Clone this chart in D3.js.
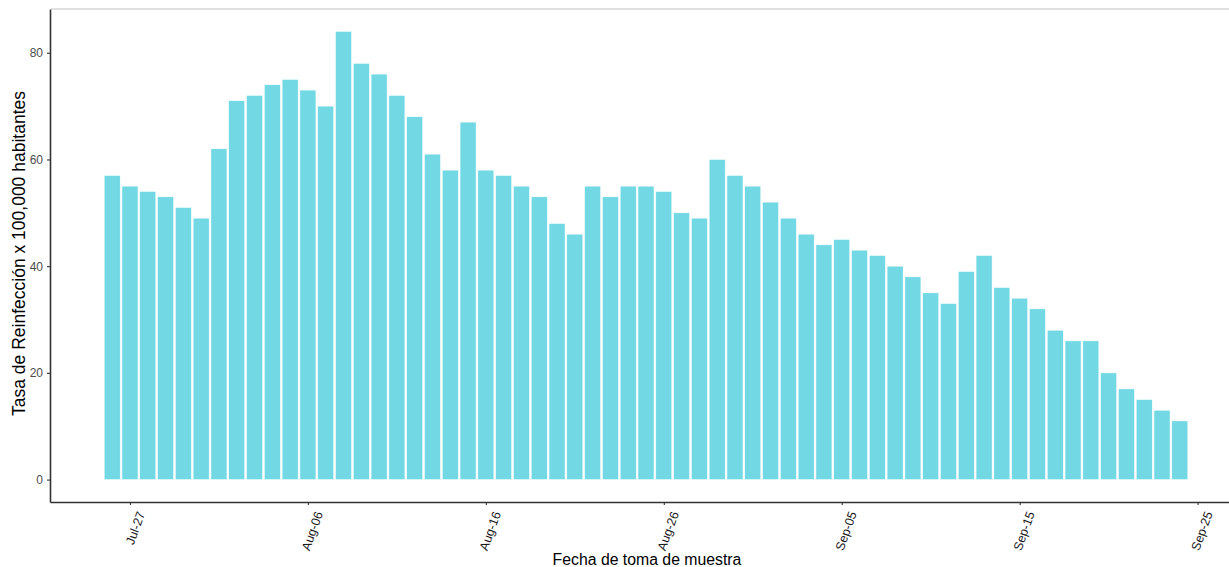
<!DOCTYPE html>
<html>
<head>
<meta charset="utf-8">
<script src="https://cdn.jsdelivr.net/npm/d3@7"></script>
<style>
  body { margin: 0; background: #fff; }
  svg { display: block; font-family: "Liberation Sans", Arial, sans-serif; }
</style>
</head>
<body>
<div id="chart"></div>
<script>
// Dates of sample collection (month-day, 2021)
const fechas = [
  "07-26","07-27","07-28","07-29","07-30","07-31",
  "08-01","08-02","08-03","08-04","08-05","08-06","08-07","08-08","08-09","08-10",
  "08-11","08-12","08-13","08-14","08-15","08-16","08-17","08-18","08-19","08-20",
  "08-21","08-22","08-23","08-24","08-25","08-26","08-27","08-28","08-29","08-30","08-31",
  "09-01","09-02","09-03","09-04","09-05","09-06","09-07","09-08","09-09","09-10",
  "09-11","09-12","09-13","09-14","09-15","09-16","09-17","09-18","09-19","09-20",
  "09-21","09-22","09-23","09-24"
];

// Reinfection rate x 100,000
const tasa = [
  57, 55, 54, 53, 51, 49,
  62, 71, 72, 74, 75, 73, 70, 84, 78, 76,
  72, 68, 61, 58, 67, 58, 57, 55, 53, 48,
  46, 55, 53, 55, 55, 54, 50, 49, 60, 57, 55,
  52, 49, 46, 44, 45, 43, 42, 40, 38, 35,
  33, 39, 42, 36, 34, 32, 28, 26, 26, 20,
  17, 15, 13, 11
];

const yTicks = [0, 20, 40, 60, 80];
const xTicks = ["07-27", "08-06", "08-16", "08-26", "09-05", "09-15", "09-25"];

const parse = d3.timeParse("%Y-%m-%d");
const toDate = (md) => parse("2021-" + md);

const data = fechas.map((f, i) => ({ date: toDate(f), value: tasa[i] }));

const width = 1229, height = 567;
const panel = { left: 50, right: 1242, top: 9, bottom: 502 };

const svg = d3.select("#chart")
  .append("svg")
  .attr("width", width)
  .attr("height", height);

// x scale: time, padded like ggplot (5% of the bar extent)
const half = 0.45 * 864e5;
const first = d3.min(data, d => d.date).getTime() - half;
const last = d3.max(data, d => d.date).getTime() + half;
const pad = (last - first) * 0.05;
const x = d3.scaleTime()
  .domain([new Date(first - pad), new Date(last + pad)])
  .range([panel.left, panel.right]);

const yMax = d3.max(tasa);
const y = d3.scaleLinear()
  .domain([-yMax * 0.05, yMax * 1.05])
  .range([panel.bottom, panel.top]);

// thin gray strip line at the top
svg.append("line")
  .attr("x1", panel.left + 1)
  .attr("x2", width)
  .attr("y1", panel.top)
  .attr("y2", panel.top)
  .attr("stroke", "#d6d6d6")
  .attr("stroke-width", 1.5);

// bars
svg.append("g")
  .selectAll("rect")
  .data(data)
  .enter()
  .append("rect")
  .attr("x", d => x(new Date(d.date.getTime() - half)))
  .attr("width", d => x(new Date(d.date.getTime() + half)) - x(new Date(d.date.getTime() - half)))
  .attr("y", d => y(d.value))
  .attr("height", d => y(0) - y(d.value))
  .attr("fill", "#72d9e4")
  .attr("stroke", "#ffffff")
  .attr("stroke-width", 0.5);

// y axis
const yAxis = d3.axisLeft(y)
  .tickValues(yTicks)
  .tickSize(3)
  .tickSizeOuter(0)
  .tickPadding(4);

const gy = svg.append("g")
  .attr("transform", `translate(${panel.left}, 0)`)
  .call(yAxis);
gy.select(".domain").attr("stroke", "#333").attr("stroke-width", 1.6);
gy.selectAll(".tick line").attr("stroke", "#333").attr("stroke-width", 1.1);
gy.selectAll(".tick text")
  .attr("fill", "#4d4d4d")
  .attr("font-size", 12)
  .attr("font-family", "Liberation Sans, Arial, sans-serif");

// x axis
const xAxis = d3.axisBottom(x)
  .tickValues(xTicks.map(toDate))
  .tickFormat(d3.timeFormat("%b-%d"))
  .tickSize(3)
  .tickSizeOuter(0);

const gx = svg.append("g")
  .attr("transform", `translate(0, ${panel.bottom})`)
  .call(xAxis);
gx.select(".domain").attr("stroke", "#333").attr("stroke-width", 1.6);
gx.selectAll(".tick line").attr("stroke", "#333").attr("stroke-width", 1.1);
gx.selectAll(".tick text")
  .attr("fill", "#1a1a1a")
  .attr("font-size", 12.5)
  .attr("font-family", "Liberation Sans, Arial, sans-serif")
  .attr("text-anchor", "end")
  .attr("dy", "0.35em")
  .attr("transform", "translate(5, 8) rotate(-70)");

// axis titles
svg.append("text")
  .attr("x", 647)
  .attr("y", 565)
  .attr("text-anchor", "middle")
  .attr("font-size", 15.8)
  .attr("fill", "#000")
  .text("Fecha de toma de muestra");

svg.append("text")
  .attr("transform", `translate(25, ${(panel.top + panel.bottom) / 2 - 2}) rotate(-90)`)
  .attr("text-anchor", "middle")
  .attr("font-size", 17.5)
  .attr("fill", "#000")
  .text("Tasa de Reinfección x 100,000 habitantes");
</script>
</body>
</html>
